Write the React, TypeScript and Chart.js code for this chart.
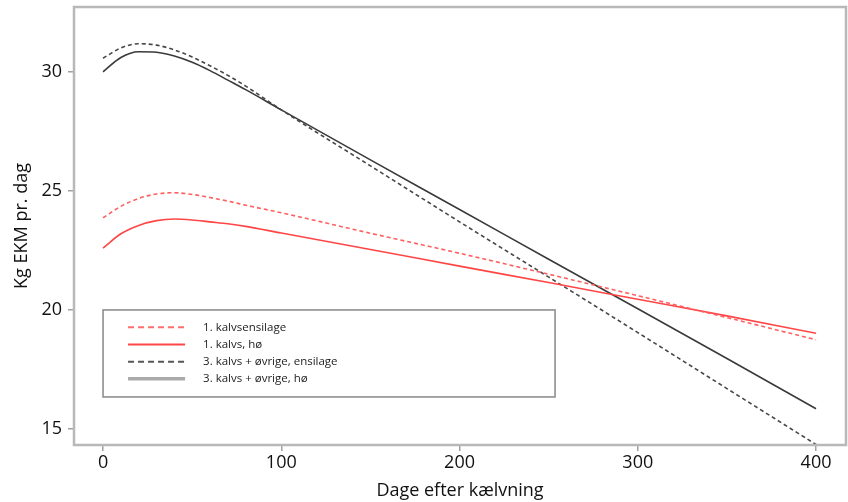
import React, { useEffect, useRef } from "react";
import { Chart, registerables } from "chart.js";

Chart.register(...registerables);

// ---- data ----
const days = [0, 10, 20, 30, 40, 50, 60, 70, 80, 100, 150, 200, 250, 300, 350, 400];
const kalv1Ensilage = [23.87, 24.35, 24.68, 24.87, 24.92, 24.85, 24.72, 24.57, 24.4, 24.08, 23.22, 22.38, 21.5, 20.6, 19.68, 18.75];
const kalv1Hoe = [22.6, 23.2, 23.55, 23.75, 23.82, 23.78, 23.7, 23.62, 23.51, 23.23, 22.54, 21.84, 21.15, 20.45, 19.75, 19.02];
const kalv3Ensilage = [30.57, 31.0, 31.18, 31.12, 30.92, 30.62, 30.25, 29.85, 29.4, 28.4, 26.05, 23.7, 21.38, 19.05, 16.7, 14.35];
const kalv3Hoe = [30.0, 30.6, 30.84, 30.82, 30.66, 30.4, 30.05, 29.65, 29.25, 28.4, 26.3, 24.22, 22.13, 20.05, 17.96, 15.85];

const seriesLabels = [
  "1. kalvsensilage",
  "1. kalvs, hø",
  "3. kalvs + øvrige, ensilage",
  "3. kalvs + øvrige, hø",
];
const xTicks = [0, 100, 200, 300, 400];
const yTicks = [15, 20, 25, 30];
const xTitle = "Dage efter kælvning";
const yTitle = "Kg EKM pr. dag";

const FONT = "'Open Sans', sans-serif";

const seriesStyles = [
  { color: "rgb(255,95,95)", dash: [4, 3], width: 1.6 },
  { color: "rgb(255,70,70)", dash: [], width: 1.6 },
  { color: "#474747", dash: [4, 3], width: 1.6 },
  { color: "#3a3a3a", dash: [], width: 1.6 },
];
const legendStyles = [
  { color: "rgb(255,110,110)", dash: [6, 4], width: 2 },
  { color: "rgb(255,70,70)", dash: [], width: 2 },
  { color: "#555", dash: [6, 4], width: 2 },
  { color: "#aaa", dash: [], width: 3.5 },
];

const framePlugin = {
  id: "frame",
  afterDraw(chart: any) {
    const { ctx, chartArea: a } = chart;
    ctx.save();
    ctx.strokeStyle = "#b8b8b8";
    ctx.lineWidth = 2.5;
    ctx.strokeRect(a.left, a.top, a.right - a.left, a.bottom - a.top);
    ctx.restore();
  },
};

const legendBoxPlugin = {
  id: "legendBox",
  afterDraw(chart: any) {
    const { ctx } = chart;
    const xs = chart.scales.x;
    const ys = chart.scales.y;
    const left = xs.getPixelForValue(0);
    const top = ys.getPixelForValue(20);
    const w = 452;
    const h = 87;
    ctx.save();
    ctx.fillStyle = "#fff";
    ctx.fillRect(left, top, w, h);
    ctx.strokeStyle = "#8f8f8f";
    ctx.lineWidth = 1.6;
    ctx.strokeRect(left, top, w, h);
    ctx.font = `11.5px ${FONT}`;
    ctx.textBaseline = "middle";
    ctx.fillStyle = "#222";
    seriesLabels.forEach((label, i) => {
      const y = top + 17.3 + i * 17.2;
      const st = legendStyles[i];
      ctx.beginPath();
      ctx.setLineDash(st.dash);
      ctx.strokeStyle = st.color;
      ctx.lineWidth = st.width;
      ctx.moveTo(left + 25, y);
      ctx.lineTo(left + 82, y);
      ctx.stroke();
      ctx.setLineDash([]);
      ctx.fillText(label, left + 100, y);
    });
    ctx.restore();
  },
};

export default function App() {
  const ref = useRef<HTMLCanvasElement | null>(null);

  useEffect(() => {
    if (!ref.current) return;
    const seriesValues = [kalv1Ensilage, kalv1Hoe, kalv3Ensilage, kalv3Hoe];
    const chart = new Chart(ref.current, {
      type: "line",
      data: {
        datasets: seriesValues.map((vals, i) => ({
          label: seriesLabels[i],
          data: days.map((d, j) => ({ x: d, y: vals[j] })),
          borderColor: seriesStyles[i].color,
          borderDash: seriesStyles[i].dash,
          borderWidth: seriesStyles[i].width,
          pointRadius: 0,
          fill: false,
          cubicInterpolationMode: "monotone" as const,
        })),
      },
      options: {
        responsive: false,
        animation: false,
        devicePixelRatio: 1,
        layout: { padding: { top: 7, right: 2, left: 0, bottom: 0 } },
        plugins: {
          legend: { display: false },
          tooltip: { enabled: false },
        },
        scales: {
          x: {
            type: "linear",
            min: -16.3,
            max: 416.8,
            afterBuildTicks: (s: any) => {
              s.ticks = xTicks.map((v) => ({ value: v }));
            },
            afterFit: (s: any) => {
              s.height = 57;
              s.paddingLeft = 0;
              s.paddingRight = 0;
            },
            grid: {
              drawOnChartArea: false,
              drawTicks: true,
              tickLength: 6,
              color: "#a0a0a0",
              lineWidth: 1.5,
            },
            border: { display: false },
            ticks: {
              padding: 1,
              color: "#111",
              font: { family: FONT, size: 18 },
              maxRotation: 0,
            },
            title: {
              display: true,
              text: xTitle,
              color: "#111",
              font: { family: FONT, size: 18 },
              padding: { top: 0, bottom: 0 },
            },
          },
          y: {
            type: "linear",
            min: 14.33,
            max: 32.72,
            afterBuildTicks: (s: any) => {
              s.ticks = yTicks.map((v) => ({ value: v }));
            },
            afterFit: (s: any) => {
              s.width = 74;
              s.paddingTop = 0;
              s.paddingBottom = 0;
            },
            grid: {
              drawOnChartArea: false,
              drawTicks: true,
              tickLength: 6,
              color: "#a0a0a0",
              lineWidth: 1.5,
            },
            border: { display: false },
            ticks: {
              padding: 6,
              color: "#111",
              font: { family: FONT, size: 18 },
            },
            title: {
              display: true,
              text: yTitle,
              color: "#111",
              font: { family: FONT, size: 18 },
              padding: { top: 11, bottom: 0 },
            },
          },
        },
      },
      plugins: [framePlugin, legendBoxPlugin],
    });
    return () => chart.destroy();
  }, []);

  return (
    <div style={{ position: "absolute", left: 0, top: 0, width: 848, height: 502, background: "#fff" }}>
      <canvas ref={ref} width={848} height={502} style={{ display: "block" }} />
    </div>
  );
}
